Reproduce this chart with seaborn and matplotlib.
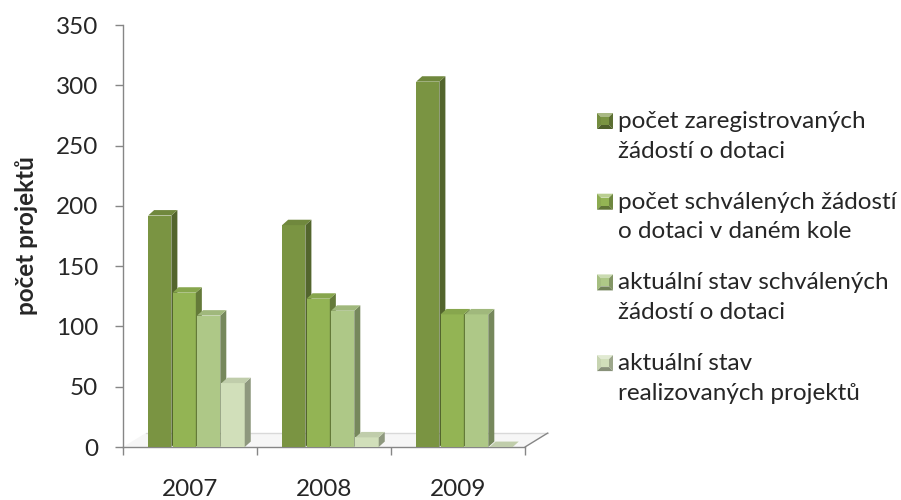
import numpy as np
import pandas as pd
import seaborn as sns
import matplotlib.pyplot as plt
from matplotlib.patches import Polygon
from matplotlib.colors import to_rgb

# data
roky = ['2007', '2008', '2009']
serie = ['počet zaregistrovaných\nžádostí o dotaci',
         'počet schválených žádostí\no dotaci v daném kole',
         'aktuální stav schválených\nžádostí o dotaci',
         'aktuální stav\nrealizovaných projektů']
zaregistrovane = [192, 184, 303]
schvalene = [128, 123, 110]
aktualni_schvalene = [109, 113, 110]
realizovane = [53, 8, 0]

barvy = ['#7A9442', '#93B454', '#AEC887', '#D1DFBA']

df = pd.DataFrame({
    'rok': roky * 4,
    'serie': np.repeat(serie, len(roky)),
    'pocet': zaregistrovane + schvalene + aktualni_schvalene + realizovane,
})

sns.set_style('white')
plt.rcParams['font.family'] = ['Lato', 'DejaVu Sans']
fs = 17.5

fig = plt.figure(figsize=(9.01, 5), dpi=100)
ax = fig.add_axes([123 / 901, 53 / 500, 402 / 901, 422 / 500])

sns.barplot(data=df, x='rok', y='pocet', hue='serie', hue_order=serie,
            palette=barvy, width=0.73, gap=0.05, saturation=1,
            linewidth=0, legend=False, ax=ax)

# pseudo 3D: posun skupiny, bocni a horni steny
dx, dy = 0.045, 4.5
posun = 0.048
for h, cont in enumerate(ax.containers):
    c = np.array(to_rgb(barvy[h]))
    for bar in cont:
        bar.set_x(bar.get_x() + posun)
        bar.set_zorder(3 + h)
        x0 = bar.get_x()
        x1 = x0 + bar.get_width()
        y1 = bar.get_height()
        side = Polygon([(x1, 0), (x1 + dx, dy), (x1 + dx, y1 + dy), (x1, y1)],
                       closed=True, facecolor=c * 0.68, edgecolor='none', zorder=3 + h)
        top = Polygon([(x0, y1), (x0 + dx, y1 + dy), (x1 + dx, y1 + dy), (x1, y1)],
                      closed=True, facecolor=c * 0.92, edgecolor='none', zorder=3 + h)
        ax.add_patch(side)
        ax.add_patch(top)

# podlaha
fx, fy = 0.17, 11.6
ax.add_patch(Polygon([(-0.5, 0), (2.5, 0), (2.5 + fx, fy), (-0.5 + fx, fy)],
                     closed=True, facecolor='#F6F6F6', edgecolor='none',
                     zorder=1, clip_on=False))
ax.plot([-0.5 + fx, 2.5 + fx], [fy, fy], color='#D9D9D9', lw=1, zorder=1, clip_on=False)
ax.plot([2.5, 2.5 + fx], [0, fy], color='#868686', lw=1, zorder=2, clip_on=False)

ax.set_xlim(-0.5, 2.5)
ax.set_ylim(0, 350)
ax.set_yticks(range(0, 351, 50))
ax.set_xticks([-0.5, 0.5, 1.5, 2.5], minor=True)
ax.tick_params(axis='y', length=6, width=1, color='#868686', pad=12, labelsize=fs, left=True)
ax.tick_params(axis='x', which='major', length=0, pad=23, labelsize=fs)
ax.tick_params(axis='x', which='minor', length=6, width=1, color='#868686', bottom=True)
for s in ['top', 'right']:
    ax.spines[s].set_visible(False)
for s in ['left', 'bottom']:
    ax.spines[s].set_color('#868686')
    ax.spines[s].set_linewidth(1)
ax.set_xlabel('')
ax.set_ylabel('počet projektů', fontsize=fs, fontweight='bold', labelpad=13)

# legenda (rucne, znacky se zkosenim)
lg = fig.add_axes([0, 0, 1, 1])
lg.set_xlim(0, 901)
lg.set_ylim(500, 0)
lg.axis('off')
for i, (lab, b) in enumerate(zip(serie, barvy)):
    c = np.array(to_rgb(b))
    yc = 121 + 80.7 * i
    x0, x1 = 597, 613
    y0, y1 = yc - 8, yc + 8
    ix0, ix1, iy0, iy1 = x0 + 4, x1 - 4, y0 + 4, y1 - 4
    light = np.clip(c + (1 - c) * 0.35, 0, 1)
    lg.add_patch(Polygon([(x0, y0), (x1, y0), (ix1, iy0), (ix0, iy0)], facecolor=light, edgecolor='none'))
    lg.add_patch(Polygon([(x0, y0), (ix0, iy0), (ix0, iy1), (x0, y1)], facecolor=c * 0.95, edgecolor='none'))
    lg.add_patch(Polygon([(x1, y0), (x1, y1), (ix1, iy1), (ix1, iy0)], facecolor=c * 0.75, edgecolor='none'))
    lg.add_patch(Polygon([(x0, y1), (x1, y1), (ix1, iy1), (ix0, iy1)], facecolor=c * 0.65, edgecolor='none'))
    lg.add_patch(Polygon([(ix0, iy0), (ix1, iy0), (ix1, iy1), (ix0, iy1)], facecolor=c, edgecolor='none'))
    lg.text(618, yc - 10, lab, fontsize=fs, va='top', ha='left', linespacing=1.5)

plt.savefig('out.png', dpi=100)
plt.close()
